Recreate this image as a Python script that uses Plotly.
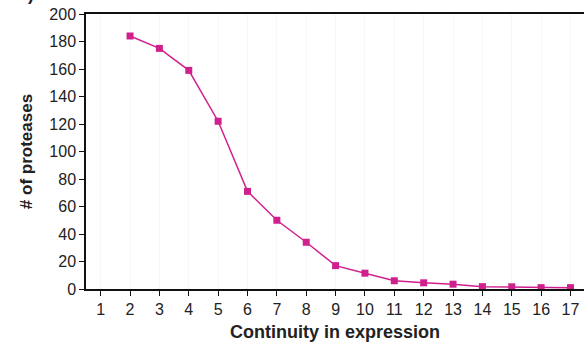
import plotly.graph_objects as go

continuity = [2, 3, 4, 5, 6, 7, 8, 9, 10, 11, 12, 13, 14, 15, 16, 17]
proteases = [184, 175, 159, 122, 71, 50, 34, 17, 11.5, 6, 4.5, 3.5, 1.7, 1.6, 1, 1]
x_ticks = list(range(1, 18))
y_ticks = list(range(0, 201, 20))

color = "#d0208e"
font = "Liberation Sans, Arial, sans-serif"

fig = go.Figure()
fig.add_trace(go.Scatter(
    x=continuity, y=proteases, mode="lines+markers",
    line=dict(color=color, width=1.5),
    marker=dict(symbol="square", size=7, color=color),
    showlegend=False,
))

fig.update_layout(
    width=584, height=350,
    margin=dict(l=86, r=0, t=14, b=61, autoexpand=False),
    plot_bgcolor="white", paper_bgcolor="white",
    font=dict(family=font, size=16, color="#222"),
)
fig.update_xaxes(
    range=[0.5, 17.46], tickvals=x_ticks, ticktext=[str(v) for v in x_ticks],
    showline=True, linecolor="#111", linewidth=1.5, mirror=True,
    ticks="outside", ticklen=5, tickcolor="#111", tickwidth=1.2,
    showgrid=True, gridcolor="#f6f6f6", gridwidth=1, zeroline=False,
    automargin=False,
    title=dict(text="<b>Continuity in expression</b>", font=dict(size=18, color="#222"), standoff=8),
)
fig.update_yaxes(
    range=[0, 200], tickvals=y_ticks,
    showline=True, linecolor="#111", linewidth=1.5, mirror=True,
    ticks="outside", ticklen=5, tickcolor="#111", tickwidth=1.2,
    showgrid=False, zeroline=False, automargin=False,
    title=dict(text="<b># of proteases</b>", font=dict(size=17, color="#222"), standoff=12),
)
fig.add_annotation(
    text="<b>b)</b>", x=0, y=1, xref="paper", yref="paper",
    xanchor="right", yanchor="bottom",
    xshift=-50, yshift=8, showarrow=False, font=dict(size=18, color="#222"),
)

fig.write_html(
    "out.html",
    config={"displayModeBar": False},
    post_script="document.body.style.margin='0';document.body.style.padding='0';",
)
